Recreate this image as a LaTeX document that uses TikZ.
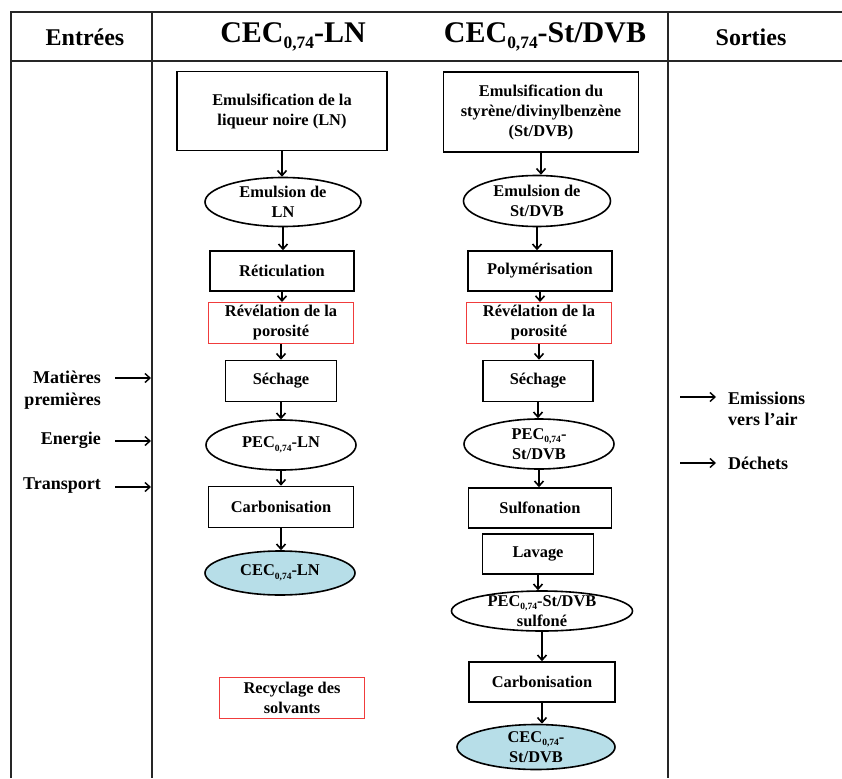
\documentclass[tikz,border=0pt]{standalone}
\usepackage{fontspec}
\usepackage{graphicx}
\setmainfont{Liberation Serif}
\usetikzlibrary{shapes.geometric,arrows.meta}
\definecolor{lblue}{HTML}{B7DEE8}
\definecolor{rbox}{HTML}{F03C3C}
\newcommand\bodyf{\fontsize{16.4}{20}\selectfont\bfseries}
\newcommand\sidef{\fontsize{18}{21.5}\selectfont\bfseries}
\newcommand\headf{\fontsize{30}{34}\selectfont\bfseries}
\newcommand\headsf{\fontsize{24}{28}\selectfont\bfseries}
\newcommand\sbs[1]{\raisebox{-0.22em}{\scalebox{0.58}{#1}}}
\tikzset{
  tbl/.style={line width=1.8pt, black!85},
  box/.style={draw, line width=1.6pt, rectangle, align=center, inner sep=0pt, font=\bodyf},
  rbx/.style={draw=rbox, line width=1pt, rectangle, align=center, inner sep=0pt, font=\bodyf},
  ell/.style={draw, line width=1.6pt, ellipse, align=center, inner xsep=-6pt, inner ysep=-5pt, font=\bodyf},
  fell/.style={ell, fill=lblue},
  arr/.style={line width=1.6pt, -{Straight Barb[length=5pt,width=9pt]}},
  sarr/.style={line width=1.4pt, -{Straight Barb[length=5pt,width=9pt]}},
  side/.style={font=\sidef, align=right, inner sep=0pt},
  head/.style={font=\headf, inner sep=0pt},
  heads/.style={font=\headsf, inner sep=0pt}
}
\begin{document}
\begin{tikzpicture}[x=1pt,y=-1pt]
\useasboundingbox (0,0) rectangle (842,778);
% table
\draw[tbl] (11,778) -- (11,12) -- (842,12);
\draw[tbl] (11,61) -- (842,61);
\draw[tbl] (152,12) -- (152,778);
\draw[tbl] (668,12) -- (668,778);
% headers
\node[heads] (hin) at (85,37) {Entrées};
\node[head] (hln) at (293,37) {CEC\sbs{0,74}-LN};
\node[head] (hst) at (545,37) {CEC\sbs{0,74}-St/DVB};
\node[heads] (hout) at (751,37) {Sorties};
% LN column
\node[box, minimum width=210pt, minimum height=79pt] (a1) at (282,111) {Emulsification de la\\liqueur noire (LN)};
\node[ell, minimum width=156pt, minimum height=49pt] (a2) at (283,202) {Emulsion de\\LN};
\node[box, minimum width=144pt, minimum height=40pt] (a3) at (282,271) {Réticulation};
\node[rbx, minimum width=145pt, minimum height=41pt] (a4) at (281,323) {Révélation de la\\porosité};
\node[box, minimum width=111pt, minimum height=41pt] (a5) at (281,381) {Séchage};
\node[ell, minimum width=150pt, minimum height=50pt] (a6) at (281,445) {PEC\sbs{0,74}-LN};
\node[box, minimum width=145pt, minimum height=41pt] (a7) at (281,507) {Carbonisation};
\node[fell, minimum width=150pt, minimum height=44pt] (a8) at (280,573) {CEC\sbs{0,74}-LN};
\node[rbx, minimum width=145pt, minimum height=41pt] (rec) at (292,698) {Recyclage des\\solvants};
\foreach \p/\q in {a1/a2,a2/a3,a3/a4,a4/a5,a5/a6,a6/a7,a7/a8}
  \draw[arr] (\p.south) -- (\p.south |- \q.north);
% St/DVB column
\node[box, minimum width=195pt, minimum height=80pt] (b1) at (541,112) {Emulsification du\\styrène/divinylbenzène\\(St/DVB)};
\node[ell, minimum width=147pt, minimum height=51pt] (b2) at (537,201) {Emulsion de\\St/DVB};
\node[box, minimum width=144pt, minimum height=40pt] (b3) at (540,271) {Polymérisation};
\node[rbx, minimum width=145pt, minimum height=41pt] (b4) at (539,323) {Révélation de la\\porosité};
\node[box, minimum width=110pt, minimum height=41pt] (b5) at (538,381) {Séchage};
\node[ell, minimum width=150pt, minimum height=50pt] (b6) at (539,444) {PEC\sbs{0,74}-\\St/DVB};
\node[box, minimum width=143pt, minimum height=40pt] (b7) at (540,508) {Sulfonation};
\node[box, minimum width=111pt, minimum height=40pt] (b8) at (538,554) {Lavage};
\node[ell, minimum width=181pt, minimum height=40pt, inner xsep=-14pt, inner ysep=-9pt] (b9) at (542,611) {PEC\sbs{0,74}-St/DVB\\sulfoné};
\node[box, minimum width=146pt, minimum height=40pt] (b10) at (542,682) {Carbonisation};
\node[fell, minimum width=158pt, minimum height=45pt] (b11) at (536,747) {CEC\sbs{0,74}-\\St/DVB};
\foreach \p/\q in {b1/b2,b2/b3,b3/b4,b4/b5,b5/b6,b6/b7,b8/b9,b9/b10,b10/b11}
  \draw[arr] (\p.south) -- (\p.south |- \q.north);
% inputs
\node[side, anchor=east] (mp) at (101,390) {Matières\\premières};
\node[side, anchor=east] (en) at (101,440) {Energie};
\node[side, anchor=east] (tr) at (101,486) {Transport};
\coordinate (mp0) at (115,378); \coordinate (mp1) at (151,378);
\coordinate (en0) at (115,441); \coordinate (en1) at (151,441);
\coordinate (tr0) at (115,487); \coordinate (tr1) at (151,487);
\draw[sarr] (mp0) -- (mp1);
\draw[sarr] (en0) -- (en1);
\draw[sarr] (tr0) -- (tr1);
% outputs
\node[side, anchor=west, align=left] (em) at (728,409) {Emissions\\vers l'air};
\node[side, anchor=west, align=left] (de) at (728,463) {Déchets};
\coordinate (em0) at (680,397); \coordinate (em1) at (716,397);
\coordinate (de0) at (680,463); \coordinate (de1) at (716,463);
\draw[sarr] (em0) -- (em1);
\draw[sarr] (de0) -- (de1);
\end{tikzpicture}
\end{document}
